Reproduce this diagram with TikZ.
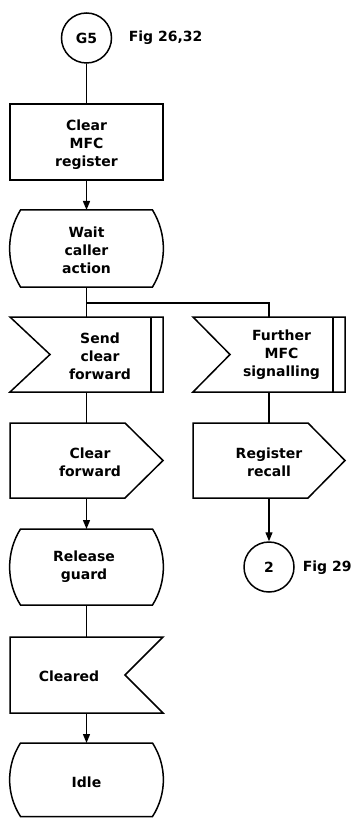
\documentclass[tikz,border=0pt]{standalone}
\usepackage{fontspec}
\setmainfont{DejaVu Sans}
\usetikzlibrary{arrows.meta}
\begin{document}
\begin{tikzpicture}[x=1pt,y=-1pt,line width=1.5pt,
  box/.style={draw=none,inner sep=0pt,outer sep=0pt},
  txt/.style={align=center,font=\fontsize{14}{18}\selectfont\bfseries,inner sep=0pt},
  conn/.style={line width=1.3pt},
  arr/.style={conn,-{Triangle[length=9pt,width=7pt]}}]
\useasboundingbox (0,0) rectangle (360,818);

% start connector
\node[draw,circle,minimum size=50pt,txt] (g5) at (86.5,38) {G5};
\node[txt,anchor=west] (fig1) at (128,38) {Fig 26,32};

% task
\node[draw,inner sep=0pt,outer sep=0pt,minimum width=153pt,minimum height=76pt] (clr) at (86.5,142) {};
\node[txt] (clrt) at (86.5,145) {Clear\\MFC\\register};

% state: wait
\node[box,minimum width=153pt,minimum height=77pt] (wait) at (86.5,248.5) {};
\draw (20.5,210) -- (152.5,210) .. controls (167,233.9) and (167,263.1) .. (152.5,287)
  -- (20.5,287) .. controls (6,263.1) and (6,233.9) .. (20.5,210) -- cycle;
\node[txt] (waitt) at (86.5,250) {Wait\\caller\\action};

% inputs with bar
\node[box,minimum width=153pt,minimum height=75pt] (scf) at (86.5,354.5) {};
\draw (10,317) -- (163,317) -- (163,392) -- (10,392) -- (50,354.5) -- cycle;
\draw (151,317) -- (151,392);
\node[txt] (scft) at (100,356) {Send\\clear\\forward};

\node[box,minimum width=152pt,minimum height=75pt] (fmfc) at (269,354.5) {};
\draw (193,317) -- (345,317) -- (345,392) -- (193,392) -- (230,354.5) -- cycle;
\draw (333,317) -- (333,392);
\node[txt] (fmfct) at (281.5,355) {Further\\MFC\\signalling};

% outputs
\node[box,minimum width=153pt,minimum height=75pt] (cf) at (86.5,460.5) {};
\draw (10,423) -- (125,423) -- (163,460.5) -- (125,498) -- (10,498) -- cycle;
\node[txt] (cft) at (90,462) {Clear\\forward};

\node[box,minimum width=152pt,minimum height=75pt] (rr) at (269,460.5) {};
\draw (193,423) -- (308,423) -- (345,460.5) -- (308,498) -- (193,498) -- cycle;
\node[txt] (rrt) at (269,462) {Register\\recall};

% state: release guard
\node[box,minimum width=153pt,minimum height=76pt] (rg) at (86.5,567) {};
\draw (20.5,529) -- (152.5,529) .. controls (167,552) and (167,582) .. (152.5,605)
  -- (20.5,605) .. controls (6,582) and (6,552) .. (20.5,529) -- cycle;
\node[txt] (rgt) at (84,566.5) {Release\\guard};

% connector 2
\node[draw,circle,minimum size=50pt,txt] (c2) at (269,567) {2};
\node[txt,anchor=west] (fig2) at (302,568) {Fig 29};

% input: cleared
\node[box,minimum width=153pt,minimum height=76pt] (cl) at (86.5,675) {};
\draw (10,637) -- (163,637) -- (125,675) -- (163,713) -- (10,713) -- cycle;
\node[txt] (clt) at (69,676) {Cleared};

% state: idle
\node[box,minimum width=153pt,minimum height=73.5pt] (idle) at (86.5,779.75) {};
\draw (20.5,743) -- (152.5,743) .. controls (167,765.5) and (167,794) .. (152.5,816.5)
  -- (20.5,816.5) .. controls (6,794) and (6,765.5) .. (20.5,743) -- cycle;
\node[txt] (idlet) at (86.5,782) {Idle};

% connectors
\coordinate (split) at (86.5,303);
\draw[conn] (g5.south) -- (clr.north);
\draw[arr] (clr.south) -- (wait.north);
\draw[conn] (wait.south) -- (scf.north);
\draw[conn] (split) -| (fmfc.north);
\draw[conn] (scf.south) -- (cf.north);
\draw[conn] (fmfc.south) -- (rr.north);
\draw[arr] (cf.south) -- (rg.north);
\draw[arr] (rr.south) -- (c2.north);
\draw[conn] (rg.south) -- (cl.north);
\draw[arr] (cl.south) -- (idle.north);
\end{tikzpicture}
\end{document}
